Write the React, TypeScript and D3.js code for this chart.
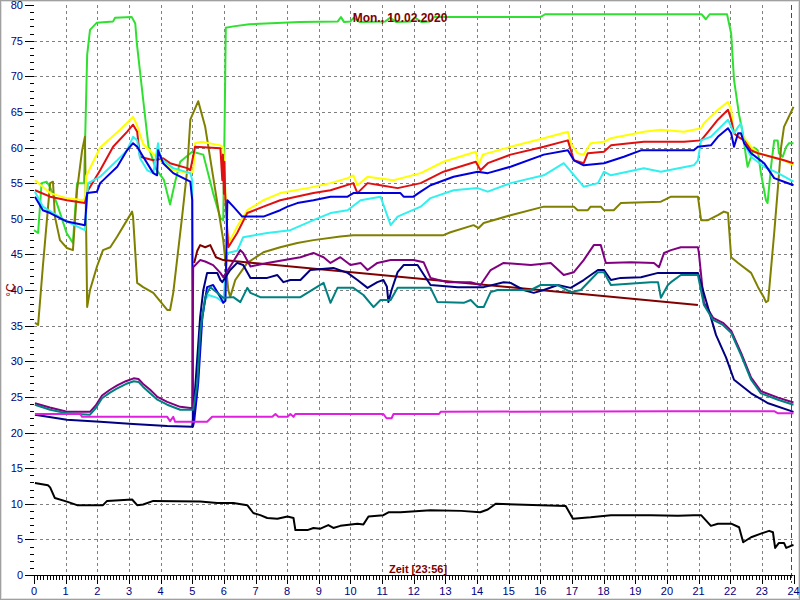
import React from "react";
import * as d3 from "d3";

type P = [number, number];

const titleText = "Mon., 10.02.2020";
const xAxisTitle = "Zeit [23:56]";
const yAxisTitle = "°C";
const xTicks = d3.range(0, 25);
const yTicks = d3.range(0, 85, 5);
const nowHour = 23.933;

const greenSeries: P[] = [[0,48.4],[0.13,48],[0.24,55],[0.4,55.2],[0.5,54.5],[0.72,52.2],[1.03,48],[1.23,46.6],[1.36,55],[1.58,55],[1.61,60],[1.68,73],[1.77,76.5],[1.98,77.5],[2.5,77.7],[2.56,78.2],[3.09,78.3],[3.2,77.4],[3.25,74.6],[3.45,66.7],[3.62,60.1],[3.85,57],[4.1,55.5],[4.3,52],[4.45,55],[4.62,58],[5.0,59.4],[5.35,59],[5.66,53.6],[5.89,50.1],[5.98,49.8],[6.02,62],[6.06,76.8],[6.3,77],[6.8,77.3],[8.4,77.6],[9.6,77.7],[9.7,78.3],[9.8,77.6],[10.0,77.7],[10.1,78.2],[10.3,77.6],[11.1,77.7],[11.25,78.2],[11.45,77.6],[11.9,77.7],[12.05,78.2],[12.25,77.6],[12.5,77.7],[12.65,78.3],[16.0,78.3],[16.15,78.7],[21.1,78.7],[21.23,78.0],[21.35,78.7],[21.9,78.7],[22.03,76],[22.12,69.5],[22.28,64.6],[22.4,62],[22.5,58.7],[22.55,57.3],[22.66,58.7],[22.75,60],[22.87,59.6],[22.97,56.4],[23.13,52.6],[23.18,52.2],[23.29,57.3],[23.39,61],[23.5,61],[23.54,59.2],[23.66,58.7],[23.77,60.1],[23.86,60.6],[24,60.6]];

const yellowSeries: P[] = [[0.03,55.4],[0.51,53.6],[1.03,52.9],[1.55,52.6],[1.62,53],[1.65,56],[2.09,60],[2.72,62.5],[3.13,64.3],[3.25,63.2],[3.45,60.5],[3.67,59.5],[4.08,57.8],[4.4,56.8],[4.94,56.4],[5.03,56.6],[5.09,60.6],[5.3,60.8],[5.89,60.3],[5.98,60],[6.04,54.5],[6.1,48],[6.2,47],[6.42,48.9],[6.74,51.2],[7.25,52.6],[7.78,53.6],[8.64,54.3],[9.37,55],[9.91,55.7],[10.09,56.1],[10.22,54.7],[10.54,55.9],[11.36,55.4],[12.22,56.4],[12.94,58],[13.96,59.4],[14.05,57.5],[14.18,59],[15.06,60.1],[16.11,61.3],[16.87,62.2],[16.96,60.6],[17.18,59.2],[17.37,59],[17.59,60.6],[18.01,60.8],[18.23,61.3],[19.27,62.2],[19.81,62.5],[20.54,62.2],[21.08,62.7],[21.17,63.4],[21.61,65.3],[21.93,66.4],[22.03,65.3],[22.12,62],[22.25,61.5],[22.34,62],[22.66,60.1],[22.88,59.2],[23.29,58.7],[23.7,58.2],[24,57.5]];

const redSeries: P[] = [[0.03,54],[0.51,53.1],[1.04,52.6],[1.61,52.2],[1.71,54],[2.09,56.8],[2.5,60.1],[2.94,62.2],[3.13,63.2],[3.26,62.2],[3.35,58.7],[3.77,58.2],[4.08,58.5],[4.3,57.8],[4.84,57.1],[4.94,56.8],[5.09,60.1],[5.89,59.9],[5.95,55.4],[5.97,59],[6.0,53.5],[6.02,58],[6.04,53.6],[6.14,46],[6.42,48],[6.74,50.8],[7.25,51.7],[7.78,52.6],[8.83,53.6],[9.37,54],[10.09,55],[10.22,53.6],[10.54,55],[10.95,54.7],[11.49,54.3],[12.22,55],[12.94,56.6],[13.96,58],[14.11,56.8],[14.34,57.8],[15.06,59],[16.11,60.1],[16.87,61],[17.06,58.2],[17.37,57.8],[17.5,59.2],[18.01,59.4],[18.23,60.3],[19.27,60.8],[20.54,60.8],[21.08,61],[21.3,62.2],[21.61,63.9],[21.93,65.3],[22.03,63.9],[22.12,62],[22.25,61.5],[22.44,61],[22.66,59.6],[22.88,59.2],[23.29,58.7],[23.7,58.2],[24,57.8]];

const cyanSeries: P[] = [[0.03,53.8],[0.28,51.7],[1.04,49.6],[1.61,48.4],[1.71,55],[2.09,55.9],[2.63,58.2],[2.94,59.6],[3.13,61.5],[3.26,61],[3.35,58.5],[3.58,56.8],[3.77,56.4],[3.92,60.6],[3.99,58.5],[4.4,57.1],[4.94,56.4],[5.0,55.4],[5.03,22.8],[5.16,26],[5.25,34.4],[5.41,38.6],[5.51,39.3],[5.79,38.9],[5.98,38.2],[6.11,45.2],[6.42,45.5],[6.61,47.4],[7.37,48],[8.1,48.4],[8.83,49.8],[9.37,50.8],[9.91,51.2],[10.32,52.6],[10.95,53.1],[11.27,49.1],[11.49,50.3],[12.22,51.7],[12.53,52.9],[13.26,54],[14.02,54.3],[14.34,53.8],[15.06,55],[16.11,56.1],[16.74,57.8],[17.37,54.5],[17.82,55],[18.01,56.6],[18.23,56.1],[19.27,57.1],[19.81,56.6],[20.85,57.5],[20.98,58.2],[21.08,61],[21.39,61.5],[21.93,63.9],[22.12,62],[22.25,62.9],[22.34,63.4],[22.44,60.6],[22.66,58.7],[23.07,57.3],[23.51,56.4],[24,55.2]];

const blueSeries: P[] = [[0.03,53.1],[0.28,51.2],[0.51,50.8],[1.04,49.6],[1.61,49.1],[1.68,53.6],[1.99,53.8],[2.09,55],[2.63,57.3],[2.94,59.6],[3.13,60.6],[3.26,60.1],[3.45,58.7],[3.77,56.4],[3.89,56.1],[3.92,59.6],[4.08,57.8],[4.4,56.4],[4.94,55.2],[5.0,52.6],[5.02,20.8],[5.06,21.5],[5.19,27],[5.32,36.2],[5.47,40.4],[5.66,40.7],[5.89,39],[5.98,38.2],[6.05,38.5],[6.11,52.6],[6.3,51.7],[6.58,50.3],[7.25,50.3],[7.78,51.2],[8.01,51.7],[8.32,52.2],[8.83,52.6],[9.37,53.1],[9.91,53.1],[10.09,53.6],[11.0,53.6],[11.58,53.6],[11.68,53.1],[11.99,53.1],[12.22,53.8],[12.53,54.7],[13.26,55.9],[14.02,56.6],[14.34,56.4],[15.06,57.3],[16.11,59],[16.87,59.6],[17.06,58.2],[17.37,57.5],[18.01,57.8],[18.64,58.7],[19.18,59.6],[20.85,59.6],[20.98,60.1],[21.39,60.3],[21.61,61.5],[21.93,62.7],[22.03,62],[22.12,60.1],[22.25,62],[22.34,62],[22.44,60.6],[22.66,59.2],[23.07,57.8],[23.39,55.7],[23.7,55.2],[24,54.7]];

const oliveSeries: P[] = [[0.03,35.4],[0.13,35.1],[0.28,43.3],[0.51,55],[0.6,55.2],[0.66,50.3],[0.82,47],[1.04,45.9],[1.23,45.6],[1.36,54],[1.52,59.6],[1.61,61.5],[1.68,37.6],[1.77,40],[1.99,43.3],[2.18,45.6],[2.41,46],[2.63,47.5],[3.1,51],[3.13,50.3],[3.26,41],[3.45,40.4],[3.77,39.6],[4.21,37.2],[4.3,37.2],[4.4,39.6],[4.68,50.3],[4.84,56.8],[4.94,63.9],[5.19,66.5],[5.41,62.9],[5.66,55.9],[5.98,47],[6.14,40],[6.2,39],[6.36,41.4],[6.74,43.8],[7.25,45.3],[7.78,46],[8.32,46.6],[8.83,47],[9.68,47.5],[10.09,47.7],[12.94,47.7],[13.16,48.1],[13.89,49.1],[14.05,48.7],[14.21,49.4],[15.06,50.5],[16.11,51.7],[17.06,51.7],[17.18,51.2],[17.5,51.2],[17.59,51.7],[17.91,51.7],[18.01,51.2],[18.32,51.2],[18.54,52.2],[19.81,52.4],[20.13,53.1],[20.98,53.1],[21.08,49.8],[21.3,49.8],[21.61,50.5],[21.8,51],[21.93,50.8],[22.03,44.6],[22.25,43.8],[22.66,42.4],[22.88,40.4],[23.07,38.9],[23.13,38.3],[23.2,38.5],[23.39,48],[23.51,54.5],[23.61,60.1],[23.7,62.9],[23.83,64.1],[24,65.7]];

const maroonSeries: P[] = [[5.06,43.8],[5.16,45.5],[5.25,46.3],[5.41,46],[5.57,46.3],[5.75,44.6],[5.98,44.2],[20.98,37.9]];

const purpleSeries: P[] = [[0.03,24.1],[0.5,23.5],[1.04,22.9],[1.77,22.9],[1.95,23.8],[2.15,25.2],[2.4,26],[2.63,26.6],[2.9,27.2],[3.15,27.6],[3.3,27.5],[3.45,26.8],[3.67,26.0],[3.9,25.0],[4.21,24.3],[4.62,23.6],[5.0,23.4],[5.03,43.2],[5.25,44.2],[5.41,44],[5.66,43.5],[5.89,42.4],[5.98,41.8],[6.2,43.3],[6.52,45.6],[6.61,45.2],[6.84,43.3],[7.37,43.8],[8.42,44.6],[8.83,45.2],[9.15,44.6],[9.37,43.8],[9.68,44.6],[10.0,43.5],[10.32,43.8],[10.54,42.8],[10.85,43.8],[11.27,44.2],[11.99,44.2],[12.31,43.9],[12.53,41.7],[13.07,41.1],[13.8,41.1],[14.11,40.7],[14.43,42.8],[14.84,43.8],[15.7,43.5],[16.33,43.8],[16.74,42.1],[17.06,42.5],[17.37,44.2],[17.69,46.3],[17.91,46.3],[18.07,43.8],[18.86,43.9],[19.59,43.8],[19.75,43.2],[19.91,45.2],[20.13,45.6],[20.44,46],[20.98,46],[21.01,45.2],[21.17,38.2],[21.46,36.1],[21.77,35.4],[22.03,34.3],[22.34,31.2],[22.66,27.7],[22.97,25.8],[23.51,24.9],[24,24.2]];

const navySeries: P[] = [[0.03,22.5],[1.04,21.8],[2.09,21.5],[3.13,21.2],[4.21,20.9],[5.0,20.8],[5.03,22.2],[5.25,36.2],[5.35,40],[5.47,42.4],[5.79,42.4],[5.89,41.4],[5.95,41.1],[6.2,42.8],[6.42,43.8],[6.61,43.5],[6.84,41.7],[7.37,41.7],[7.69,42.1],[7.88,41.1],[8.1,41.4],[8.42,41.4],[8.73,42.8],[9.46,43.1],[9.91,42.4],[10.22,41.4],[10.54,40.3],[10.85,41.1],[11.04,41.4],[11.15,40.5],[11.2,38.3],[11.3,40],[11.49,42.5],[11.68,43.5],[12.12,43.5],[12.37,41.8],[12.53,40.7],[13.39,40.4],[14.21,40.4],[14.84,41.1],[15.06,41],[15.47,40],[15.79,39.6],[16.11,40],[16.55,40.7],[16.96,40.3],[17.37,41.4],[17.82,42.8],[18.01,42.8],[18.23,41.4],[18.54,41.7],[19.18,41.8],[19.72,42.4],[20.98,42.4],[21.23,38.6],[21.55,33.7],[21.87,30.5],[22.12,27.4],[22.66,25.5],[23.2,24.1],[24,22.9]];

const tealSeries: P[] = [[0.03,23.9],[0.51,23.2],[1.04,22.7],[1.77,22.5],[1.95,23.4],[2.15,24.8],[2.4,25.6],[2.63,26.2],[2.9,26.8],[3.15,27.2],[3.3,27.1],[3.45,26.4],[3.67,25.5],[3.9,24.6],[4.21,23.9],[4.62,23.2],[5.03,23.2],[5.16,26.9],[5.25,34],[5.41,39],[5.57,40.4],[5.79,39.6],[5.98,38.9],[6.3,39],[6.52,38.3],[6.74,40.3],[6.84,39.6],[7.15,39],[8.42,39],[9.15,41],[9.37,38.2],[9.59,40.3],[10.09,40.3],[10.41,39.3],[10.73,37.6],[10.95,38.6],[11.27,38.6],[11.49,40.3],[12.53,40.3],[12.75,38.3],[13.58,38.2],[13.8,38.6],[14.02,37.6],[14.21,37.6],[14.43,39.7],[14.65,40],[15.7,40],[16.01,40.7],[16.55,40.7],[16.96,39.7],[17.28,40],[17.82,42.5],[18.01,42.5],[18.23,40.7],[19.49,41.1],[19.72,41.1],[19.81,38.9],[20.03,40.7],[20.13,41.1],[20.44,42.1],[20.98,42.1],[21.17,37.9],[21.46,35.8],[21.77,35.1],[22.03,34],[22.34,30.9],[22.66,27.4],[22.97,25.5],[23.51,24.6],[24,23.9]];

const magentaSeries: P[] = [[0.03,22.6],[1.46,22.6],[1.52,22.2],[4.21,22.2],[4.3,21.6],[4.4,22.2],[4.46,21.5],[5.47,21.5],[5.63,22.2],[7.53,22.2],[7.63,22.6],[7.72,22.2],[8.01,22.2],[8.1,22.6],[8.2,22.2],[8.26,22.6],[11.04,22.6],[11.14,22.0],[11.3,22.0],[11.36,22.6],[12.8,22.6],[12.85,22.9],[20.13,23],[23.39,23],[23.51,22.7],[24,22.7]];

const blackSeries: P[] = [[0.03,12.9],[0.44,12.6],[0.51,12.3],[0.66,10.8],[1.04,10.3],[1.36,9.8],[2.18,9.8],[2.31,10.4],[3.1,10.6],[3.26,9.8],[3.45,9.9],[3.77,10.4],[5.25,10.3],[5.79,10.1],[6.3,10.1],[6.74,9.8],[6.93,8.7],[7.15,8.4],[7.37,8],[7.69,7.9],[8.01,8.2],[8.2,8],[8.26,6.3],[8.64,6.3],[8.83,6.6],[9.05,6.5],[9.3,7],[9.46,6.6],[9.68,6.9],[10.22,7.2],[10.41,7.1],[10.57,8.2],[11.04,8.4],[11.2,8.8],[11.58,8.8],[12.53,9.1],[13.5,9.0],[14.1,8.8],[14.34,9.2],[14.59,10],[16.01,9.8],[16.8,9.7],[17.03,7.9],[17.59,8.1],[18.23,8.4],[19.49,8.4],[20.35,8.3],[20.85,8.4],[21.08,8.4],[21.39,6.9],[21.61,7.2],[22.03,7.2],[22.28,6.7],[22.41,4.6],[22.66,5.3],[22.97,5.8],[23.23,6.2],[23.35,6],[23.42,3.8],[23.54,4.5],[23.7,4.5],[23.77,3.8],[23.92,4.1],[24,4.2]];

const seriesList: { data: P[]; color: string }[] = [
  { data: greenSeries, color: "#30e030" },
  { data: oliveSeries, color: "#808000" },
  { data: yellowSeries, color: "#ffff00" },
  { data: redSeries, color: "#e01010" },
  { data: cyanSeries, color: "#30f0f0" },
  { data: blueSeries, color: "#0000dd" },
  { data: maroonSeries, color: "#800000" },
  { data: purpleSeries, color: "#800080" },
  { data: navySeries, color: "#000080" },
  { data: tealSeries, color: "#008080" },
  { data: magentaSeries, color: "#e020e0" },
  { data: blackSeries, color: "#000000" },
];

export default function App() {
  const x = d3.scaleLinear().domain([0, 24]).range([34, 793.5]);
  const y = d3.scaleLinear().domain([0, 80]).range([575, 5]);
  const line = d3
    .line<P>()
    .x((d) => x(d[0]))
    .y((d) => y(d[1]));
  const minorX = d3.range(0, 240).map((i) => i / 10).filter((v) => Math.abs(v - Math.round(v)) > 1e-6);
  const minorY = d3.range(0, 81).filter((v) => v % 5 !== 0);
  const font = "Arial, 'Liberation Sans', sans-serif";
  return (
    <svg
      width={800}
      height={600}
      style={{ position: "fixed", left: 0, top: 0, background: "#fff" }}
      fontFamily={font}
    >
      <rect x={0} y={0} width={800} height={600} fill="#fff" />
      <rect x={0.5} y={0.5} width={799} height={599} fill="none" stroke="#a0a0a0" strokeWidth={1} />
      <rect x={1.5} y={1.5} width={797} height={597} fill="none" stroke="#e0e0e0" strokeWidth={1} />
      {xTicks.filter((t) => t > 0 && t < 24).map((t) => (
        <line key={"gx" + t} x1={Math.round(x(t)) + 0.5} x2={Math.round(x(t)) + 0.5} y1={5} y2={575} stroke="#808080" strokeDasharray="3,3" />
      ))}
      {yTicks.filter((t) => t > 0 && t < 80).map((t) => (
        <line key={"gy" + t} x1={34} x2={793} y1={Math.round(y(t)) + 0.5} y2={Math.round(y(t)) + 0.5} stroke="#808080" strokeDasharray="3,3" />
      ))}
      <line x1={Math.round(x(nowHour)) + 0.5} x2={Math.round(x(nowHour)) + 0.5} y1={5} y2={583} stroke="#008000" strokeDasharray="5,3" />
      {seriesList.map((s, i) => (
        <path key={"s" + i} d={line(s.data) || ""} fill="none" stroke={s.color} strokeWidth={2} strokeLinejoin="round" />
      ))}
      <line x1={34} x2={793.5} y1={575.5} y2={575.5} stroke="#000" />
      {minorX.map((t) => (
        <line key={"mx" + t} x1={Math.round(x(t)) + 0.5} x2={Math.round(x(t)) + 0.5} y1={575} y2={580} stroke="#000" />
      ))}
      {xTicks.map((t) => (
        <g key={"xt" + t}>
          <line x1={Math.round(x(t)) + 0.5} x2={Math.round(x(t)) + 0.5} y1={575} y2={584} stroke="#000" />
          <text x={x(t)} y={595} textAnchor="middle" fontSize={11} fill="#000080">{t}</text>
        </g>
      ))}
      {minorY.map((t) => (
        <line key={"my" + t} x1={30} x2={34} y1={Math.round(y(t)) + 0.5} y2={Math.round(y(t)) + 0.5} stroke="#000" />
      ))}
      {yTicks.map((t) => (
        <g key={"yt" + t}>
          <line x1={25} x2={34} y1={Math.round(y(t)) + 0.5} y2={Math.round(y(t)) + 0.5} stroke="#000" />
          <text x={23} y={y(t) + 4} textAnchor="end" fontSize={11} fill="#000080">{t}</text>
        </g>
      ))}
      <text transform="translate(15,290) rotate(-90)" textAnchor="middle" fontSize={12} fill="#800000">{yAxisTitle}</text>
      <text x={400} y={22} textAnchor="middle" fontSize={12} fontWeight="bold" fill="#800000">{titleText}</text>
      <text x={389} y={573} fontSize={11} fontWeight="bold" fill="#800000">{xAxisTitle}</text>
    </svg>
  );
}
